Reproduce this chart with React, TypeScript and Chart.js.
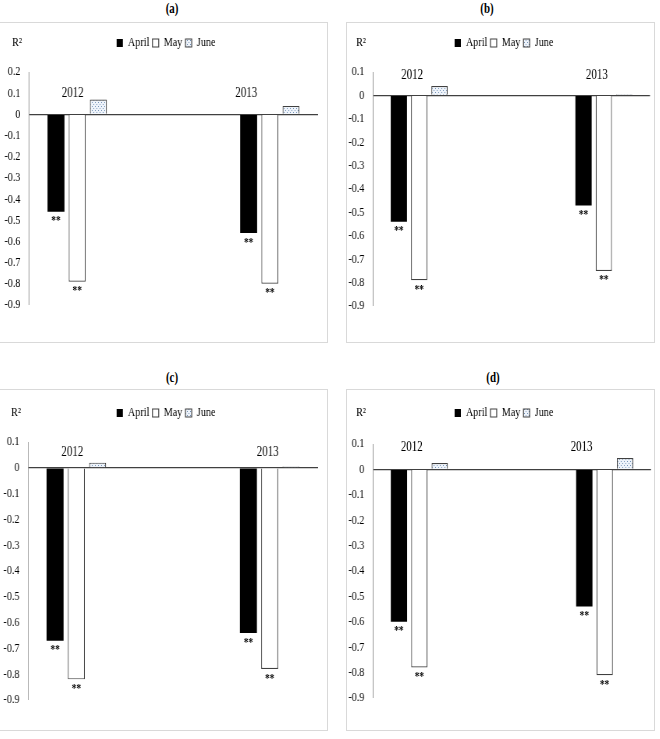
import React, { useEffect, useRef } from 'react';
import { Chart, registerables } from 'chart.js';

Chart.register(...registerables);

// ---------- data ----------
const YEARS = ['2012', '2013'];
const SERIES = ['April', 'May', 'June'];
const SIG = ['**', '**', ''];

const A_APRIL = [-0.46, -0.56];
const A_MAY = [-0.79, -0.8];
const A_JUNE = [0.07, 0.04];

const B_APRIL = [-0.54, -0.47];
const B_MAY = [-0.79, -0.75];
const B_JUNE = [0.04, 0.005];

const C_APRIL = [-0.67, -0.64];
const C_MAY = [-0.82, -0.78];
const C_JUNE = [0.02, 0.005];

const D_APRIL = [-0.6, -0.54];
const D_MAY = [-0.78, -0.81];
const D_JUNE = [0.025, 0.045];

const Y_MIN = -0.9;
const Y_STEP = 0.1;

// ---------- layout / style ----------
const S = 0.78; // horizontal text compression of the original figure
const FONT = 'Liberation Serif';

type Cfg = {
  title: string;
  titlePos: { x: number; y: number };
  frame: { l: number; t: number; w: number; h: number };
  area: { l: number; r: number; t: number; b: number };
  legendX: number;
  legendY: number;
  yMax: number;
  april: number[];
  may: number[];
  june: number[];
  yearDx: number[];
  yearVal: number;
};

const PANELS: Cfg[] = [
  {
    title: '(a)', titlePos: { x: 172, y: 9 },
    frame: { l: -2, t: 22, w: 330, h: 321 },
    area: { l: 29, r: 318, t: 72, b: 305 },
    legendX: 166, legendY: 43, yMax: 0.2,
    april: A_APRIL, may: A_MAY, june: A_JUNE,
    yearDx: [-4.5, -23.5], yearVal: 0.097,
  },
  {
    title: '(b)', titlePos: { x: 487, y: 9 },
    frame: { l: 346, t: 22, w: 309, h: 321 },
    area: { l: 373, r: 650, t: 72, b: 306 },
    legendX: 504, legendY: 43, yMax: 0.1,
    april: B_APRIL, may: B_MAY, june: B_JUNE,
    yearDx: [-7, -7], yearVal: 0.087,
  },
  {
    title: '(c)', titlePos: { x: 172, y: 378 },
    frame: { l: -2, t: 389, w: 330, h: 342 },
    area: { l: 28, r: 318, t: 442, b: 700 },
    legendX: 166, legendY: 413, yMax: 0.1,
    april: C_APRIL, may: C_MAY, june: C_JUNE,
    yearDx: [-4, -2], yearVal: 0.06,
  },
  {
    title: '(d)', titlePos: { x: 493, y: 378 },
    frame: { l: 346, t: 389, w: 309, h: 342 },
    area: { l: 373, r: 651, t: 444, b: 698 },
    legendX: 504, legendY: 413, yMax: 0.1,
    april: D_APRIL, may: D_MAY, june: D_JUNE,
    yearDx: [-7.5, -23], yearVal: 0.088,
  },
];

function makeDotPattern(): CanvasPattern | string {
  const c = document.createElement('canvas');
  c.width = 4;
  c.height = 4;
  const g = c.getContext('2d');
  if (!g) return '#e8eef7';
  g.fillStyle = '#eef3fa';
  g.fillRect(0, 0, 4, 4);
  g.fillStyle = '#6f8fb5';
  g.fillRect(1, 1, 1, 1);
  g.fillRect(3, 3, 1, 1);
  const p = g.createPattern(c, 'repeat');
  return p || '#e8eef7';
}

const annotPlugin = {
  id: 'annot',
  afterLayout(chart: any, _args: any, opts: any) {
    // shift the legend so it is centred where the original has it
    const lg = chart.legend;
    if (lg && typeof opts.legendCx === 'number') {
      const d = opts.legendCx - (lg.left + lg.right) / 2;
      lg.left += d;
      lg.right += d;
    }
  },
  afterDatasetsDraw(chart: any, _args: any, opts: any) {
    const { ctx, chartArea, scales } = chart;
    const x = scales.x;
    const y = scales.y;
    ctx.save();
    ctx.fillStyle = '#000';
    ctx.textAlign = 'center';
    // significance marks
    chart.data.datasets.forEach((_ds: any, di: number) => {
      const mark = SIG[di];
      if (!mark) return;
      const meta = chart.getDatasetMeta(di);
      meta.data.forEach((bar: any) => {
        const p = bar.getProps(['x', 'y', 'base'], true);
        const end = Math.max(p.y, p.base);
        ctx.font = `bold 12px "${FONT}"`;
        ctx.textBaseline = 'top';
        ctx.fillText(mark, p.x, end + 3.5);
      });
    });
    // year labels
    ctx.font = `14px "${FONT}"`;
    ctx.textBaseline = 'middle';
    YEARS.forEach((yr, i) => {
      ctx.fillText(yr, x.getPixelForValue(i) + opts.yearDx[i] / S, y.getPixelForValue(opts.yearVal));
    });
    // R² label
    ctx.font = `13px "${FONT}"`;
    ctx.fillText('R²', chartArea.left - 12 / S, opts.legendCy);
    ctx.restore();
  },
};

function Panel({ cfg }: { cfg: Cfg }) {
  const ref = useRef<HTMLCanvasElement>(null);
  const ox = cfg.frame.l + 1;
  const oy = cfg.frame.t + 1;
  const W = Math.round((cfg.frame.w - 2) / S);
  const H = cfg.frame.h - 2;

  useEffect(() => {
    if (!ref.current) return;
    const cl = (cfg.area.l - ox) / S;
    const cr = (cfg.area.r - ox) / S;
    const ct = cfg.area.t - oy;
    const cb = cfg.area.b - oy;
    const legendCx = (cfg.legendX - ox) / S;
    const legendCy = cfg.legendY - oy;
    const FS = 13;
    const LP = 4;
    const pr = W - cr;
    const pl = 0;
    const yWidth = cl - pl;
    const pt = legendCy - LP - FS / 2;
    const legendBottom = pt + FS + LP + 10;
    const gap = Math.max(0, ct - legendBottom);
    const pb = H - cb;

    const pattern = makeDotPattern();
    const values = [cfg.april, cfg.may, cfg.june];
    const fills = ['#000000', '#ffffff', pattern];
    const borders = ['#000000', '#404040', '#404040'];
    const bws = [0, 1.2, 1.2];

    const datasets = SERIES.map((name, si) => ({
      label: name,
      data: YEARS.map((_, i) => ({ x: i, y: values[si][i] })),
      backgroundColor: fills[si],
      borderColor: borders[si],
      borderWidth: bws[si],
      categoryPercentage: 0.33,
      barPercentage: 0.8,
    }));

    const chart = new Chart(ref.current, {
      type: 'bar',
      data: { datasets } as any,
      plugins: [annotPlugin],
      options: {
        animation: false,
        responsive: false,
        events: [],
        layout: { padding: { left: pl, right: pr, top: pt, bottom: pb } },
        plugins: {
          legend: {
            display: true,
            position: 'top',
            labels: {
              font: { family: FONT, size: FS },
              color: '#000',
              boxWidth: 8,
              boxHeight: 8,
              padding: LP,
            },
          },
          tooltip: { enabled: false },
          annot: { yearDx: cfg.yearDx, yearVal: cfg.yearVal, legendCy, legendCx },
        } as any,
        scales: {
          x: {
            type: 'linear',
            position: 'top',
            min: -0.25,
            max: 1.25,
            offset: false,
            afterBuildTicks: (sc: any) => {
              sc.ticks = YEARS.map((_, i) => ({ value: i }));
            },
            ticks: { display: false },
            grid: {
              display: true,
              drawOnChartArea: false,
              drawTicks: true,
              tickLength: gap,
              color: 'rgba(0,0,0,0)',
            },
            border: { display: false },
          },
          y: {
            type: 'linear',
            min: Y_MIN,
            max: cfg.yMax,
            afterFit: (sc: any) => {
              sc.width = yWidth;
            },
            ticks: {
              stepSize: Y_STEP,
              padding: 11,
              color: '#000',
              font: { family: FONT, size: 13 },
              callback: (v: any) => (Math.abs(Number(v)) < 1e-9 ? '0' : Number(v).toFixed(1)),
            },
            grid: {
              drawTicks: false,
              color: (c: any) => (c.tick && Math.abs(c.tick.value) < 1e-9 ? '#404040' : 'rgba(0,0,0,0)'),
              lineWidth: (c: any) => (c.tick && Math.abs(c.tick.value) < 1e-9 ? 1.3 : 0),
            },
            border: { display: true, color: '#9a9a9a', width: 1 },
          },
        },
      } as any,
    });
    return () => chart.destroy();
  }, [cfg]);

  return (
    <>
      <div
        style={{
          position: 'absolute',
          left: cfg.titlePos.x,
          top: cfg.titlePos.y,
          transform: `translate(-50%, -50%) scaleX(${S})`,
          font: `bold 14px "${FONT}"`,
          color: '#000',
          whiteSpace: 'nowrap',
        }}
      >
        {cfg.title}
      </div>
      <div
        style={{
          position: 'absolute',
          left: cfg.frame.l,
          top: cfg.frame.t,
          width: cfg.frame.w,
          height: cfg.frame.h,
          boxSizing: 'border-box',
          border: '1px solid #d9d9d9',
          background: '#fff',
          overflow: 'hidden',
        }}
      >
        <div
          style={{
            width: W,
            height: H,
            transform: `scaleX(${S})`,
            transformOrigin: '0 0',
          }}
        >
          <canvas ref={ref} width={W} height={H} style={{ display: 'block', width: W, height: H }} />
        </div>
      </div>
    </>
  );
}

export default function App() {
  return (
    <div
      style={{
        position: 'absolute',
        left: 0,
        top: 0,
        width: 660,
        height: 739,
        background: '#fff',
        overflow: 'hidden',
      }}
    >
      {PANELS.map((p) => (
        <Panel key={p.title} cfg={p} />
      ))}
    </div>
  );
}
